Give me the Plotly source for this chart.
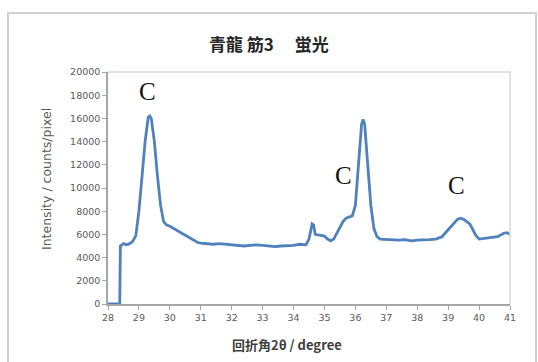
import plotly.graph_objects as go

# Diffraction scan: 2θ (degree) vs intensity (counts/pixel)
two_theta = [28.0, 28.38, 28.40, 28.5, 28.6, 28.7, 28.8, 28.9, 29.0, 29.1, 29.2, 29.3,
             29.35, 29.4, 29.5, 29.6, 29.7, 29.8, 29.9, 30.0, 30.1, 30.2, 30.3, 30.4,
             30.5, 30.6, 30.7, 30.8, 30.9, 31.0, 31.2, 31.4, 31.6, 31.8, 32.0, 32.2,
             32.4, 32.6, 32.8, 33.0, 33.2, 33.4, 33.6, 33.8, 34.0, 34.2, 34.3, 34.4,
             34.5, 34.6, 34.65, 34.7, 34.8, 34.9, 35.0, 35.1, 35.2, 35.3, 35.4, 35.5,
             35.6, 35.7, 35.8, 35.9, 36.0, 36.1, 36.2, 36.25, 36.3, 36.4, 36.5, 36.6,
             36.7, 36.8, 37.0, 37.2, 37.4, 37.6, 37.8, 38.0, 38.2, 38.4, 38.6, 38.8,
             39.0, 39.2, 39.3, 39.4, 39.5, 39.6, 39.7, 39.8, 39.9, 40.0, 40.2, 40.4,
             40.6, 40.8, 40.9, 41.0]
intensity = [0, 0, 5000, 5200, 5100, 5200, 5400, 5900, 8000, 11000, 14000, 16100,
             16200, 16000, 14000, 11000, 8500, 7100, 6800, 6700, 6550, 6400, 6250, 6100,
             5950, 5800, 5600, 5450, 5300, 5250, 5200, 5150, 5200, 5150, 5100, 5050,
             5000, 5050, 5100, 5050, 5000, 4950, 5000, 5000, 5050, 5150, 5100, 5100,
             5600, 6900, 6800, 6000, 5950, 5900, 5850, 5600, 5450, 5600, 6100, 6600,
             7100, 7400, 7500, 7600, 8500, 12000, 15500, 15900, 15500, 12000, 8500, 6500,
             5800, 5600, 5550, 5550, 5500, 5550, 5450, 5500, 5500, 5550, 5600, 5800,
             6400, 7000, 7300, 7400, 7300, 7100, 6900, 6400, 5900, 5600, 5650, 5700,
             5800, 6100, 6150, 6000]

# Peak labels
peak_labels = ["C", "C", "C"]
peak_x = [29.28, 35.6, 39.28]
peak_y = [18300, 11100, 10250]

x_ticks = list(range(28, 42))
y_ticks = list(range(0, 20001, 2000))
y_tick_text = [str(v) for v in y_ticks]

fig = go.Figure()
fig.add_trace(go.Scatter(x=two_theta, y=intensity, mode="lines",
                         line=dict(color="#4f81bd", width=2.8), showlegend=False))

for t, px, py in zip(peak_labels, peak_x, peak_y):
    fig.add_annotation(x=px, y=py, xref="x", yref="y", text=t, showarrow=False,
                       font=dict(family="Liberation Serif", size=25, color="#111111"))

# Title and axis titles (positions given in pixels, converted below)
fig.add_annotation(x=269, y=43, xref="paper", yref="paper", text="<b>青龍 筋3　 蛍光</b>",
                   showarrow=False, font=dict(family="Noto Sans CJK JP", size=17, color="#262626"))
fig.add_annotation(x=287, y=344, xref="paper", yref="paper", text="<b>回折角2θ / degree</b>",
                   showarrow=False, font=dict(family="Noto Sans CJK JP", size=13, color="#404040"))
fig.add_annotation(x=46, y=179, xref="paper", yref="paper", text="Intensity / counts/pixel",
                   showarrow=False, textangle=-90,
                   font=dict(family="DejaVu Sans", size=12.5, color="#595959"))

L, R, T, B = 108, 28, 72, 58
W, H = 538 - L - R, 362 - T - B
for ann in fig.layout.annotations:
    if ann.xref == "paper":
        ann.x = (ann.x - L) / W
        ann.y = (362 - B - ann.y) / H
        ann.xanchor = "center"
        ann.yanchor = "middle"

# Plot-area top/right border and outer chart frame
fig.add_shape(type="path", xref="paper", yref="paper",
              path="M 0 1 L 1 1 L 1 0", line=dict(color="#d9d9d9", width=1.5))
fig.add_shape(type="rect", xref="paper", yref="paper",
              x0=(8 - L) / W, x1=(536 - L) / W, y0=-0.4, y1=(362 - B - 13) / H,
              line=dict(color="#d0d0d0", width=2))

fig.update_xaxes(range=[28, 41], tickvals=x_ticks, ticks="outside", ticklen=4,
                 tickcolor="#a6a6a6", showline=True, linecolor="#a6a6a6", linewidth=1.5,
                 showgrid=False, zeroline=False,
                 tickfont=dict(family="DejaVu Sans", size=9.5, color="#595959"))
fig.update_yaxes(range=[0, 20000], tickvals=y_ticks, ticktext=y_tick_text,
                 ticks="outside", ticklen=4,
                 tickcolor="#a6a6a6", showline=True, linecolor="#a6a6a6", linewidth=1.5,
                 showgrid=False, zeroline=False,
                 tickfont=dict(family="DejaVu Sans", size=9.5, color="#595959"))

fig.update_layout(width=538, height=362, margin=dict(l=L, r=R, t=T, b=B),
                  paper_bgcolor="white", plot_bgcolor="white")

fig.write_html("out.html")
